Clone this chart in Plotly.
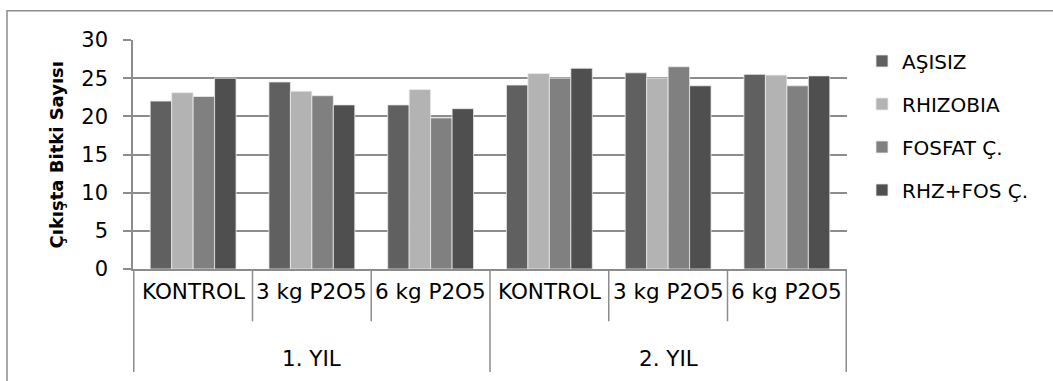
import plotly.graph_objects as go

years = ["1. YIL", "1. YIL", "1. YIL", "2. YIL", "2. YIL", "2. YIL"]
doses = ["KONTROL", "3 kg P2O5", "6 kg P2O5", "KONTROL", "3 kg P2O5", "6 kg P2O5"]
series_names = ["AŞISIZ", "RHIZOBIA", "FOSFAT Ç.", "RHZ+FOS Ç."]
asisiz = [22.0, 24.5, 21.5, 24.1, 25.7, 25.5]
rhizobia = [23.1, 23.3, 23.5, 25.6, 25.0, 25.4]
fosfat = [22.6, 22.7, 19.8, 25.0, 26.5, 24.0]
rhz_fos = [25.0, 21.5, 21.0, 26.3, 24.0, 25.3]
colors = ["#606060", "#b3b3b3", "#808080", "#4f4f4f"]
y_title = "Çıkışta Bitki Sayısı"

FONT = "DejaVu Sans"
GRAY = "#8c8c8c"
W, H = 1053, 381
L, R, T, B = 133, 847, 39.5, 269.5


def px_x(p):
    return (p - L) / (R - L)


def px_y(p):
    return (B - p) / (B - T)


cat_ids = [f"{y} / {d}" for y, d in zip(years, doses)]

fig = go.Figure()
for name, vals, col in zip(series_names, [asisiz, rhizobia, fosfat, rhz_fos], colors):
    fig.add_trace(go.Bar(
        x=cat_ids, y=vals, name=name, legendgroup=name,
        marker=dict(color=col, line=dict(color="rgba(235,235,235,0.8)", width=1)),
    ))

shapes = []
# outer chart border (top and left visible)
shapes.append(dict(type="rect", xref="paper", yref="paper",
                   x0=px_x(7), x1=px_x(W + 20), y0=px_y(H + 20), y1=px_y(10),
                   line=dict(color=GRAY, width=1.5), fillcolor="rgba(0,0,0,0)", layer="below"))
# category separators
n = len(cat_ids)
for i in range(n + 1):
    outer = (i == 0 or i == n or years[i] != years[i - 1])
    shapes.append(dict(type="line", xref="x", yref="paper",
                       x0=i - 0.5, x1=i - 0.5, y0=0,
                       y1=px_y(373) if outer else px_y(322),
                       line=dict(color=GRAY, width=1.5)))

annotations = []
for cid, d in zip(cat_ids, doses):
    annotations.append(dict(x=cid, y=px_y(292), xref="x", yref="paper", text=d,
                            showarrow=False, font=dict(family=FONT, size=21.5, color="black"),
                            xanchor="center", yanchor="middle"))
groups = []
for i, y in enumerate(years):
    if not groups or groups[-1][0] != y:
        groups.append([y, [i]])
    else:
        groups[-1][1].append(i)
for y, idx in groups:
    mid = (idx[0] + idx[-1]) / 2
    annotations.append(dict(x=mid, y=px_y(359), xref="x", yref="paper", text=y,
                            showarrow=False, font=dict(family=FONT, size=21.5, color="black"),
                            xanchor="center", yanchor="middle"))
annotations.append(dict(x=px_x(56), y=0.5, xref="paper", yref="paper", text=y_title,
                        textangle=-90, showarrow=False,
                        font=dict(family=FONT, size=18, color="black", weight="bold"),
                        xanchor="center", yanchor="middle"))

fig.update_layout(
    width=W, height=H,
    margin=dict(l=L, r=W - R, t=T, b=H - B, pad=0),
    paper_bgcolor="white", plot_bgcolor="white",
    font=dict(family=FONT, size=20, color="black"),
    barmode="group", bargap=0.277, bargroupgap=0,
    showlegend=True,
    legend=dict(x=px_x(862), y=px_y(41), xanchor="left", yanchor="top",
                font=dict(family=FONT, size=20, color="black"),
                tracegroupgap=14, bgcolor="rgba(0,0,0,0)"),
    xaxis=dict(type="category", showticklabels=False, ticks="", showgrid=False,
               showline=True, linecolor=GRAY, linewidth=1.5, zeroline=False),
    yaxis=dict(range=[0, 30], dtick=5, showgrid=True, gridcolor=GRAY, gridwidth=1.5,
               showline=True, linecolor=GRAY, linewidth=1.5, ticks="outside",
               ticklen=8, tickcolor=GRAY, tickwidth=1.5, zeroline=False,
               ticklabelstandoff=11, tickfont=dict(family=FONT, size=21, color="black")),
    shapes=shapes, annotations=annotations,
)

fig.write_html("out.html")
